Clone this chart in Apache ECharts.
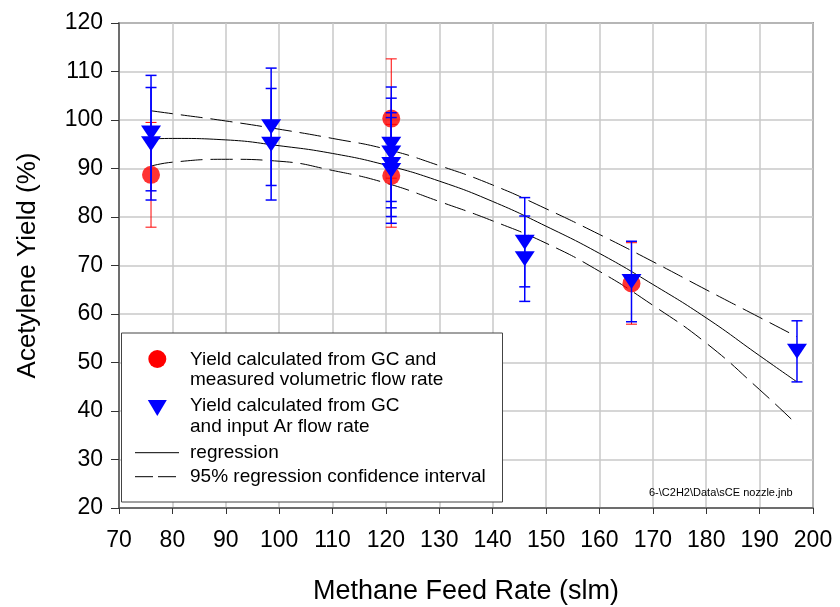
<!DOCTYPE html>
<html>
<head>
<meta charset="utf-8">
<script src="https://cdn.jsdelivr.net/npm/echarts@6/dist/echarts.min.js"></script>
<style>
  html, body { margin: 0; padding: 0; background: #fff; }
  #chart { width: 840px; height: 607px; }
</style>
</head>
<body>
<div id="chart"></div>
<script>
// Methane feed rate (slm) vs acetylene yield (%)

// Yield from GC and measured volumetric flow rate (red circles)
const gcFlowX = [76, 121, 121, 166];
const gcFlowY = [88.7, 100.3, 88.5, 66.3];
const gcFlowErr = [10.8, 12.3, 10.6, 8.4];

// Yield from GC and input Ar flow rate (blue triangles)
const arFlowX = [76, 76, 98.5, 98.5, 121, 121, 121, 121, 146, 146, 166, 197];
const arFlowY = [97.3, 95.1, 98.6, 95.0, 95.0, 93.2, 90.8, 89.6, 74.8, 71.4, 66.7, 52.3];
const arFlowErr = [11.9, 11.6, 12.1, 11.5, 11.8, 11.3, 10.7, 10.9, 9.2, 8.8, 8.3, 6.3];

// Regression curve and its 95% confidence band
const fitX = [76, 80, 90, 100, 110, 120, 130, 140, 150, 160, 170, 180, 190, 197];
const fitY = [96.1, 96.2, 95.9, 94.7, 93.1, 90.7, 87.4, 83.2, 78.1, 72.5, 66.1, 59.2, 51.4, 46.0];
const ciUpper = [101.9, 101.3, 99.8, 98.1, 96.2, 94.0, 90.6, 86.6, 81.7, 76.4, 70.8, 65.0, 59.3, 55.3];
const ciLower = [90.5, 91.3, 91.9, 91.5, 89.6, 87.0, 83.2, 79.2, 74.6, 68.8, 61.8, 54.0, 44.4, 37.2];

// Axis ticks
const xTicks = { min: 70, max: 200, step: 10 };
const yTicks = { min: 20, max: 120, step: 10 };

const FONT = "'Liberation Sans', Arial, sans-serif";

function pairs(xs, ys) { return xs.map((x, i) => [x, ys[i]]); }
function errRows(xs, ys, es) { return xs.map((x, i) => [x, ys[i] - es[i], ys[i] + es[i]]); }

function errorBar(color, width) {
  return function (params, api) {
    const x = api.value(0);
    const top = api.coord([x, api.value(2)]);
    const bot = api.coord([x, api.value(1)]);
    const half = 5.5;
    const style = { stroke: color, lineWidth: width };
    return {
      type: 'group',
      children: [
        { type: 'line', shape: { x1: top[0], y1: top[1], x2: bot[0], y2: bot[1] }, style },
        { type: 'line', shape: { x1: top[0] - half, y1: top[1], x2: top[0] + half, y2: top[1] }, style },
        { type: 'line', shape: { x1: bot[0] - half, y1: bot[1], x2: bot[0] + half, y2: bot[1] }, style }
      ]
    };
  };
}

const chart = echarts.init(document.getElementById('chart'), null, { renderer: 'canvas' });

// Legend box drawn as plain graphic elements
const legendText = (x, y, t) => ({
  type: 'text', x: x, y: y, z: 101,
  style: { text: t, font: '19px ' + FONT, fill: '#000', verticalAlign: 'middle', textVerticalAlign: 'middle' }
});

chart.setOption({
  animation: false,
  backgroundColor: '#fff',
  textStyle: { fontFamily: FONT },
  grid: {
    left: 119, right: 27, top: 23, bottom: 99,
    containLabel: false, outerBoundsMode: 'none',
    show: true, borderColor: '#555', borderWidth: 1.5, backgroundColor: 'transparent'
  },
  xAxis: {
    type: 'value',
    min: xTicks.min, max: xTicks.max, interval: xTicks.step,
    name: 'Methane Feed Rate (slm)',
    nameLocation: 'middle', nameGap: 70,
    nameTextStyle: { fontSize: 27, color: '#000', fontFamily: FONT },
    axisLine: { show: true, onZero: false, lineStyle: { color: '#555', width: 1.5 } },
    axisTick: { show: true, length: 6, lineStyle: { color: '#333' } },
    axisLabel: { fontSize: 23, color: '#000', margin: 21, fontFamily: FONT },
    splitLine: { show: true, lineStyle: { color: '#c8c8c8', width: 1.5 } }
  },
  yAxis: {
    type: 'value',
    min: yTicks.min, max: yTicks.max, interval: yTicks.step,
    name: 'Acetylene Yield (%)',
    nameLocation: 'middle', nameGap: 78,
    nameTextStyle: { fontSize: 26, color: '#000', fontFamily: FONT },
    axisLine: { show: true, onZero: false, lineStyle: { color: '#555', width: 1.5 } },
    axisTick: { show: true, length: 8, lineStyle: { color: '#333' } },
    axisLabel: { fontSize: 23, color: '#000', margin: 16, fontFamily: FONT },
    splitLine: { show: true, lineStyle: { color: '#c8c8c8', width: 1.5 } }
  },
  series: [
    {
      name: '95% upper', type: 'line', smooth: true, symbol: 'none', z: 2,
      lineStyle: { color: '#000', width: 1, type: [22, 8] },
      data: pairs(fitX, ciUpper)
    },
    {
      name: '95% lower', type: 'line', smooth: true, symbol: 'none', z: 2,
      lineStyle: { color: '#000', width: 1, type: [22, 8] },
      data: pairs(fitX, ciLower)
    },
    {
      name: 'regression', type: 'line', smooth: true, symbol: 'none', z: 2,
      lineStyle: { color: '#000', width: 1 },
      data: pairs(fitX, fitY)
    },
    {
      name: 'gc flow error', type: 'custom', z: 3,
      renderItem: errorBar('#ff0000', 1),
      data: errRows(gcFlowX, gcFlowY, gcFlowErr)
    },
    {
      name: 'Yield calculated from GC and measured volumetric flow rate',
      type: 'scatter', z: 4, symbol: 'circle', symbolSize: 18,
      itemStyle: { color: '#ff0000' },
      data: pairs(gcFlowX, gcFlowY)
    },
    {
      name: 'ar flow error', type: 'custom', z: 5,
      renderItem: errorBar('#0000ff', 1.5),
      data: errRows(arFlowX, arFlowY, arFlowErr)
    },
    {
      name: 'Yield calculated from GC and input Ar flow rate',
      type: 'scatter', z: 6, symbol: 'triangle', symbolRotate: 180, symbolSize: [20, 15],
      itemStyle: { color: '#0000ff', opacity: 1 },
      data: pairs(arFlowX, arFlowY)
    }
  ],
  graphic: [
    {
      type: 'rect', z: 100,
      shape: { x: 121.5, y: 333, width: 381, height: 169 },
      style: { fill: '#fff', stroke: '#444', lineWidth: 1 }
    },
    { type: 'circle', z: 101, shape: { cx: 157.3, cy: 359, r: 9 }, style: { fill: '#ff0000' } },
    {
      type: 'polygon', z: 101,
      shape: { points: [[147.8, 400], [166.8, 400], [157.3, 416]] },
      style: { fill: '#0000ff' }
    },
    {
      type: 'line', z: 101, shape: { x1: 135, y1: 452.7, x2: 179, y2: 452.7 },
      style: { stroke: '#000', lineWidth: 1 }
    },
    {
      type: 'line', z: 101, shape: { x1: 135, y1: 476.7, x2: 179, y2: 476.7 },
      style: { stroke: '#000', lineWidth: 1, lineDash: [18, 5] }
    },
    legendText(190, 359.3, 'Yield calculated from GC and'),
    legendText(190, 379.3, 'measured volumetric flow rate'),
    legendText(190, 406, 'Yield calculated from GC'),
    legendText(190, 426.7, 'and input Ar flow rate'),
    legendText(190, 452.7, 'regression'),
    legendText(190, 476.7, '95% regression confidence interval'),
    {
      type: 'text', x: 649, y: 492.7, z: 101,
      style: { text: '6-\\C2H2\\Data\\sCE nozzle.jnb', font: '11px ' + FONT, fill: '#000', verticalAlign: 'middle', textVerticalAlign: 'middle' }
    }
  ]
});
</script>
</body>
</html>
